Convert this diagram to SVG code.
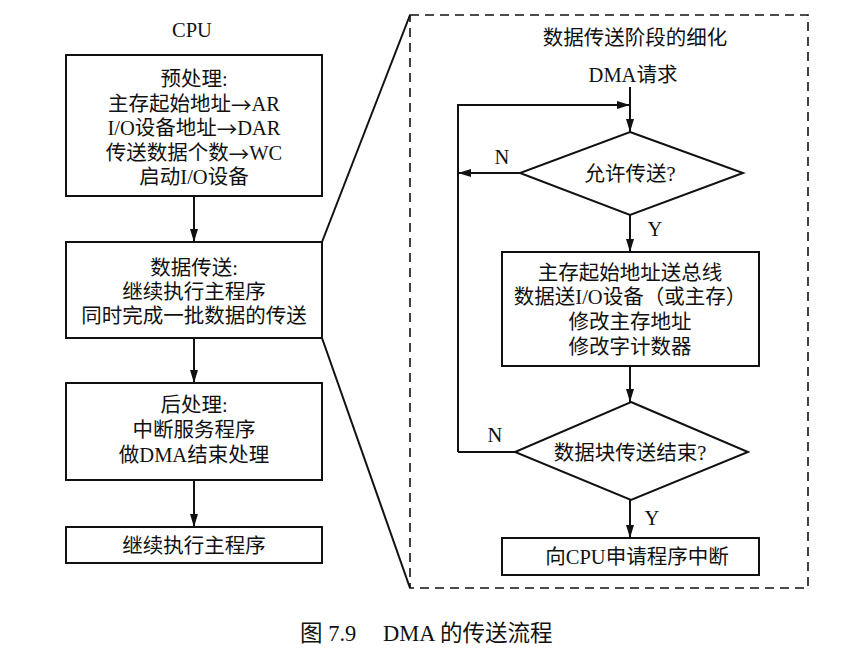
<svg xmlns="http://www.w3.org/2000/svg" width="843" height="649" viewBox="0 0 843 649">
<style>
.t{font-family:"Liberation Serif","Noto Sans CJK SC",serif;font-size:20.5px;fill:#111;text-anchor:middle;dominant-baseline:central}
.ar{font-family:"Noto Sans CJK SC",sans-serif}
.cap{font-size:22.5px;text-anchor:start}
.box{fill:#fff;stroke:#111;stroke-width:2}
.ln{fill:none;stroke:#111;stroke-width:2}
.dash{fill:none;stroke:#111;stroke-width:1.6;stroke-dasharray:9 6}
</style>
<defs>
<marker id="ah" markerUnits="userSpaceOnUse" markerWidth="13" markerHeight="8" refX="13" refY="4" orient="auto">
<path d="M0,0 L13,4 L0,8 z" fill="#111"/>
</marker>
</defs>
<rect width="843" height="649" fill="#fff"/>
<text class="t" x="192" y="30">CPU</text>
<g id="connectors">
<line class="ln" x1="194" y1="196" x2="194" y2="242" marker-end="url(#ah)"/>
<line class="ln" x1="194" y1="338" x2="194" y2="383" marker-end="url(#ah)"/>
<line class="ln" x1="194" y1="480" x2="194" y2="527" marker-end="url(#ah)"/>
<line class="ln" x1="322" y1="242" x2="410" y2="15"/>
<line class="ln" x1="322" y1="338" x2="410" y2="588"/>
<line class="ln" x1="630" y1="87" x2="630" y2="132" marker-end="url(#ah)"/>
<polyline class="ln" points="458,452 458,105 630,105" marker-end="url(#ah)"/>
<line class="ln" x1="520" y1="173" x2="458" y2="173" marker-end="url(#ah)"/>
<line class="ln" x1="630" y1="215" x2="630" y2="252" marker-end="url(#ah)"/>
<line class="ln" x1="630" y1="366" x2="630" y2="402" marker-end="url(#ah)"/>
<line class="ln" x1="515" y1="452" x2="458" y2="452"/>
<line class="ln" x1="630" y1="500" x2="630" y2="538" marker-end="url(#ah)"/>
<text class="t" x="502" y="157">N</text>
<text class="t" x="655" y="229">Y</text>
<text class="t" x="495" y="435">N</text>
<text class="t" x="652" y="518">Y</text>
</g>
<g id="pre">
<rect class="box" x="66" y="55" width="256" height="141"/>
<text class="t" x="194" y="79">预处理:</text>
<text class="t" x="194" y="103.5">主存起始地址<tspan class="ar">→</tspan>AR</text>
<text class="t" x="194" y="128">I/O设备地址<tspan class="ar">→</tspan>DAR</text>
<text class="t" x="194" y="152.5">传送数据个数<tspan class="ar">→</tspan>WC</text>
<text class="t" x="194" y="177">启动I/O设备</text>
</g>
<g id="transfer">
<rect class="box" x="66" y="242" width="256" height="96"/>
<text class="t" x="194" y="268">数据传送:</text>
<text class="t" x="194" y="292">继续执行主程序</text>
<text class="t" x="194" y="316">同时完成一批数据的传送</text>
</g>
<g id="post">
<rect class="box" x="66" y="383" width="256" height="97"/>
<text class="t" x="194" y="405">后处理:</text>
<text class="t" x="194" y="430">中断服务程序</text>
<text class="t" x="194" y="455">做DMA结束处理</text>
</g>
<g id="resume">
<rect class="box" x="66" y="527" width="256" height="36"/>
<text class="t" x="194" y="546">继续执行主程序</text>
</g>
<g id="detail">
<rect class="dash" x="410" y="15" width="398" height="573"/>
<text class="t" x="635" y="38">数据传送阶段的细化</text>
<text class="t" x="633" y="75">DMA请求</text>
</g>
<g id="allow">
<polygon class="box" points="630,132 743,173 630,215 520,173"/>
<text class="t" x="630" y="174">允许传送?</text>
</g>
<g id="ops">
<rect class="box" x="502" y="252" width="257" height="114"/>
<text class="t" x="630" y="273">主存起始地址送总线</text>
<text class="t" x="630" y="297">数据送I/O设备（或主存）</text>
<text class="t" x="630" y="322">修改主存地址</text>
<text class="t" x="630" y="347">修改字计数器</text>
</g>
<g id="done">
<polygon class="box" points="631,402 748,452 631,500 515,452"/>
<text class="t" x="630" y="453">数据块传送结束?</text>
</g>
<g id="irq">
<rect class="box" x="502" y="538" width="257" height="37"/>
<text class="t" x="637" y="557">向CPU申请程序中断</text>
</g>
<text class="t cap" x="300" y="633">图 7.9</text>
<text class="t cap" x="383" y="633">DMA 的传送流程</text>
</svg>
